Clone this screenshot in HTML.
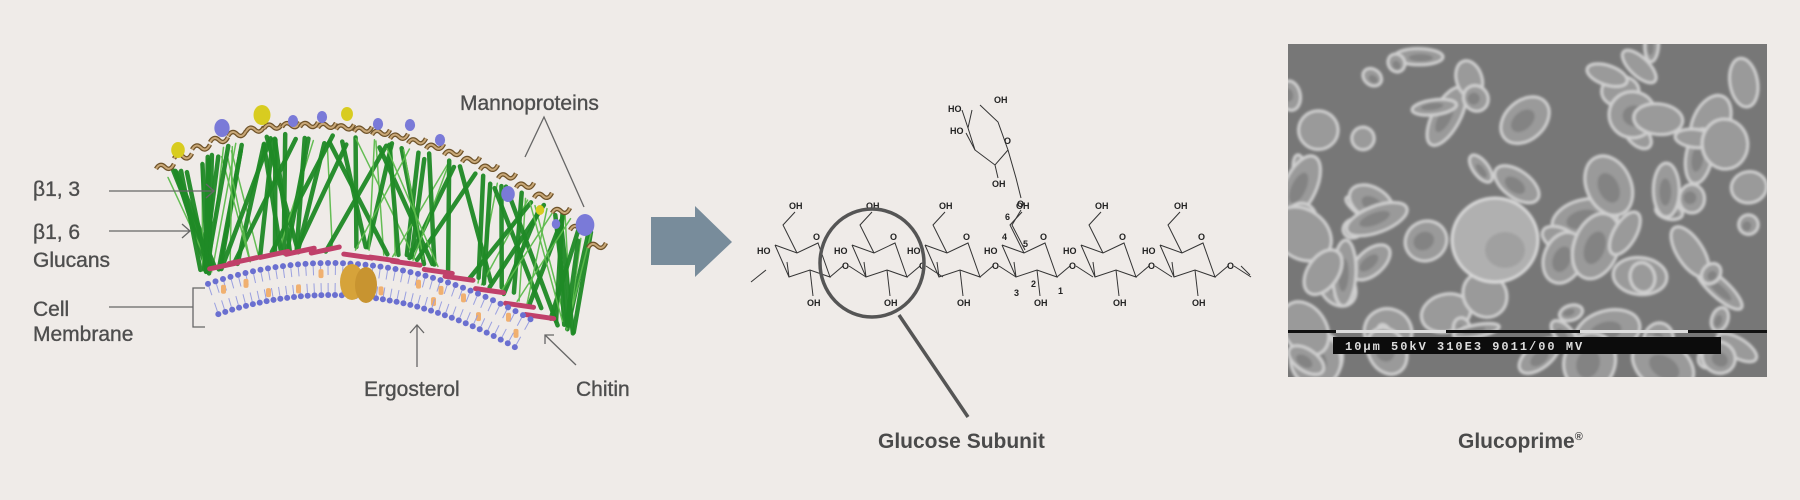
<!DOCTYPE html>
<html><head><meta charset="utf-8">
<style>
html,body{margin:0;padding:0;background:#efebe8;}
#wrap{position:relative;width:1800px;height:500px;overflow:hidden;background:#efebe8;font-family:"Liberation Sans",sans-serif;color:#4e4e4e;}
.l{position:absolute;font-size:21px;line-height:1;white-space:nowrap;-webkit-text-stroke:0.35px #4e4e4e;}
.b{font-weight:bold;color:#4a4a4a;-webkit-text-stroke:0;}
svg{position:absolute;left:0;top:0;}
</style></head><body>
<div id="wrap">
<svg id="s" width="1800" height="500" viewBox="0 0 1800 500">
 <defs>
  <filter id="bl"><feGaussianBlur stdDeviation="0.6"/></filter>
  <filter id="bl2"><feGaussianBlur stdDeviation="1.2"/></filter>
 </defs>
 <g id="cell"></g>
 <g id="photo">
  <rect x="1288" y="44" width="479" height="333" fill="#777"/>
  <g id="parts" filter="url(#bl2)"></g>
  <rect x="1288" y="330" width="479" height="3" fill="#111"/>
  <rect x="1336" y="330" width="110" height="3" fill="#ddd"/>
  <rect x="1580" y="330" width="108" height="3" fill="#ddd"/>
  <rect x="1333" y="337" width="388" height="17" fill="#0c0c0c"/>
  <text x="1345" y="350" font-family="Liberation Mono,monospace" font-size="12" font-weight="bold" fill="#ddd" letter-spacing="2">10μm 50kV 310E3 9011/00 MV</text>
 </g>
 <g stroke="#666" stroke-width="1.3" fill="none">
  <line x1="109" y1="191" x2="214" y2="191"/><polyline points="206,184 214,191 206,198"/>
  <line x1="109" y1="231" x2="190" y2="231"/><polyline points="182,224 190,231 182,238"/>
  <line x1="109" y1="307" x2="193" y2="307"/><polyline points="205,288 193,288 193,327 205,327"/>
  <line x1="417" y1="367" x2="417" y2="325"/><polyline points="410,333 417,325 424,333"/>
  <line x1="576" y1="365" x2="545" y2="335"/><polyline points="545,344 545,335 554,335"/>
  <polyline points="525,157 544,117 584,207"/>
 </g>
 <polygon points="651,217 695,217 695,206 732,242 695,277 695,265 651,265" fill="#788c9b"/>
 <g id="chem" stroke="#333" stroke-width="1" fill="none"></g>
 <g font-family="Liberation Sans,sans-serif" font-size="9" font-weight="bold" fill="#222" id="chemt"></g>
 <ellipse cx="872" cy="263" rx="52" ry="54" stroke="#555" stroke-width="3.5" fill="none"/>
 <line x1="899" y1="315" x2="968" y2="417" stroke="#555" stroke-width="3.5"/>
</svg>
<div class="l" style="left:33px;top:179px;">β1, 3</div>
<div class="l" style="left:33px;top:222px;">β1, 6</div>
<div class="l" style="left:33px;top:250px;">Glucans</div>
<div class="l" style="left:33px;top:299px;">Cell</div>
<div class="l" style="left:33px;top:324px;">Membrane</div>
<div class="l" style="left:460px;top:93px;">Mannoproteins</div>
<div class="l" style="left:364px;top:379px;">Ergosterol</div>
<div class="l" style="left:576px;top:379px;">Chitin</div>
<div class="l b" style="left:878px;top:431px;">Glucose Subunit</div>
<div class="l b" style="left:1458px;top:431px;">Glucoprime<sup style="font-size:11px;">®</sup></div>
</div>
<script>
(function(){
var NS="http://www.w3.org/2000/svg";
function el(p,t,a){var e=document.createElementNS(NS,t);for(var k in a)e.setAttribute(k,a[k]);p.appendChild(e);return e;}
var seed=7;function r(){seed=(seed*9301+49297)%233280;return seed/233280;}
var g=document.getElementById('cell');
function ym(x){return 263+0.0014*(x-330)*(x-330);}
function yt(x){return x<300?128+0.0023*(x-300)*(x-300):128+0.0012*(x-300)*(x-300);}
for(var i=0;i<90;i++){
 var x1=165+r()*430, x2=x1+(r()-0.5)*130; if(x2<200)x2=200+r()*20; if(x2>575)x2=565+r()*10;
 var y1=yt(x1)+5+r()*10, y2=ym(x2)-10-r()*8;
 if(x1>560){y1=yt(x1)+r()*20;}
 el(g,'line',{x1:x1,y1:y1,x2:x2,y2:y2,stroke:i%3==0?'#5dbb4d':'#1f8a26','stroke-width':i%3==0?1.5:4.5,'stroke-linecap':'round',opacity:0.95});
}
for(var i=0;i<13;i++){
 var x=215+i*27+r()*10, y=ym(x)-12;
 el(g,'line',{x1:x-14,y1:y+2,x2:x+14,y2:y-2+(x>330?8:-2),stroke:'#c0406a','stroke-width':5,'stroke-linecap':'round'});
}
for(var x=208;x<=535;x+=7.5){
 var y=ym(x);
 var sl=0.0028*(x-330); var nx=-sl/Math.sqrt(1+sl*sl), ny=1/Math.sqrt(1+sl*sl);
 el(g,'circle',{cx:x,cy:y,r:3,fill:'#6a6fd0'});
 el(g,'line',{x1:x+nx*3,y1:y+ny*3,x2:x+nx*12,y2:y+ny*12,stroke:'#9aa0e0','stroke-width':1});
 el(g,'circle',{cx:x+nx*32,cy:y+ny*32,r:3,fill:'#6a6fd0'});
 el(g,'line',{x1:x+nx*20,y1:y+ny*20,x2:x+nx*29,y2:y+ny*29,stroke:'#9aa0e0','stroke-width':1});
 if(r()<0.25) el(g,'rect',{x:x-2,y:y+ny*(r()<0.5?6:20),width:5,height:9,fill:'#f0b070',rx:2});
}
el(g,'ellipse',{cx:352,cy:282,rx:12,ry:18,fill:'#d6a33a'});
el(g,'ellipse',{cx:366,cy:285,rx:11,ry:18,fill:'#c89430'});
for(var x=165;x<=600;x+=18){
 var y=yt(x)-(x>560?0:4); if(x>560)y=yt(x)+(x-560)*0.3;
 el(g,'path',{d:'M'+(x-9)+' '+(y+3)+' q4 -7 9 -2 q5 5 9 -3',stroke:'#6e5228','stroke-width':4.5,fill:'none'});
 el(g,'path',{d:'M'+(x-9)+' '+(y+3)+' q4 -7 9 -2 q5 5 9 -3',stroke:'#c9a878','stroke-width':2,fill:'none'});
}
var blobs=[[178,150,'#d8cc20',8],[222,128,'#7a7ad8',9],[262,115,'#d8cc20',10],[293,121,'#7a7ad8',6],[322,117,'#7a7ad8',6],[347,114,'#d8cc20',7],[378,124,'#7a7ad8',6],[410,125,'#7a7ad8',6],[440,140,'#7a7ad8',6],[508,194,'#7a7ad8',8],[540,210,'#d8cc20',5],[556,224,'#7a7ad8',5],[585,225,'#7a7ad8',11]];
blobs.forEach(function(b){el(g,'ellipse',{cx:b[0],cy:b[1],rx:b[3]*0.85,ry:b[3],fill:b[2]});});
var pg=document.getElementById('parts');
var cp=el(document.querySelector('defs'),'clipPath',{id:'pc'});el(cp,'rect',{x:1288,y:44,width:479,height:333});
pg.setAttribute('clip-path','url(#pc)');
seed=3;
for(var i=0;i<80;i++){
 var cx=1288+r()*479, cy=44+r()*333, rx=8+r()*26, ry=6+r()*20;
 if(Math.abs(cx-1495)<55&&Math.abs(cy-240)<50)continue;
 var rot=r()*180;
 el(pg,'ellipse',{cx:cx,cy:cy,rx:rx,ry:ry,fill:'#9a9a9a',stroke:'#cfcfcf','stroke-width':3,transform:'rotate('+rot+' '+cx+' '+cy+')'});
 if(r()<0.7) el(pg,'ellipse',{cx:cx+2,cy:cy+1,rx:rx*0.5,ry:ry*0.45,fill:'#838383',transform:'rotate('+rot+' '+cx+' '+cy+')'});
}
el(pg,'ellipse',{cx:1495,cy:240,rx:43,ry:42,fill:'#b0b0b0',stroke:'#d8d8d8','stroke-width':3});
el(pg,'ellipse',{cx:1505,cy:250,rx:20,ry:18,fill:'#a0a0a0'});
var c=document.getElementById('chem'), t=document.getElementById('chemt');
function txt(x,y,s){var e=el(t,'text',{x:x,y:y});e.textContent=s;}
var bases=[775,852,925,1002,1081,1160];
bases.forEach(function(b,i){
 var C4=[b,245],C5=[b+22,253],O=[b+43,243],C1=[b+55,277],C2=[b+35,270],C3=[b+14,277];
 var pts=[C4,C5,O,C1,C2,C3,C4];
 el(c,'polyline',{points:pts.map(function(p){return p.join(',')}).join(' ')});
 el(c,'polyline',{points:C5.join(',')+' '+(b+8)+',225 '+(b+20)+',212'});
 el(c,'line',{x1:C2[0],y1:C2[1],x2:b+38,y2:296});
 el(c,'line',{x1:C3[0],y1:C3[1],x2:b+12,y2:262});
 el(c,'line',{x1:C1[0],y1:C1[1],x2:b+68,y2:266});
 el(c,'line',{x1:b+74,y1:266,x2:b+91,y2:C3[1]});
 txt(b+14,209,'OH'); txt(b+38,C1[1]-37,'O'); txt(b+32,306,'OH'); txt(b-18,254,'HO'); txt(b+67,269,'O');
});
el(c,'line',{x1:1241,y1:266,x2:1250,y2:275});
el(c,'line',{x1:751,y1:282,x2:766,y2:270});
el(c,'polyline',{points:'972,110 968,128 975,150 995,165 1008,150 998,122 980,105'});
el(c,'line',{x1:975,y1:150,x2:966,y2:133});
el(c,'line',{x1:968,y1:128,x2:962,y2:110});
el(c,'line',{x1:995,y1:165,x2:998,y2:178});
el(c,'polyline',{points:'1008,150 1016,178 1021,198'});
el(c,'polyline',{points:'1021,210 1012,225 1025,250'});
txt(948,112,'HO');txt(950,134,'HO');txt(994,103,'OH');txt(992,187,'OH');txt(1004,144,'O');txt(1017,207,'O');
txt(1005,220,'6');txt(1002,240,'4');txt(1023,247,'5');txt(1014,296,'3');txt(1031,287,'2');txt(1058,294,'1');
})();
</script>
</body></html>
